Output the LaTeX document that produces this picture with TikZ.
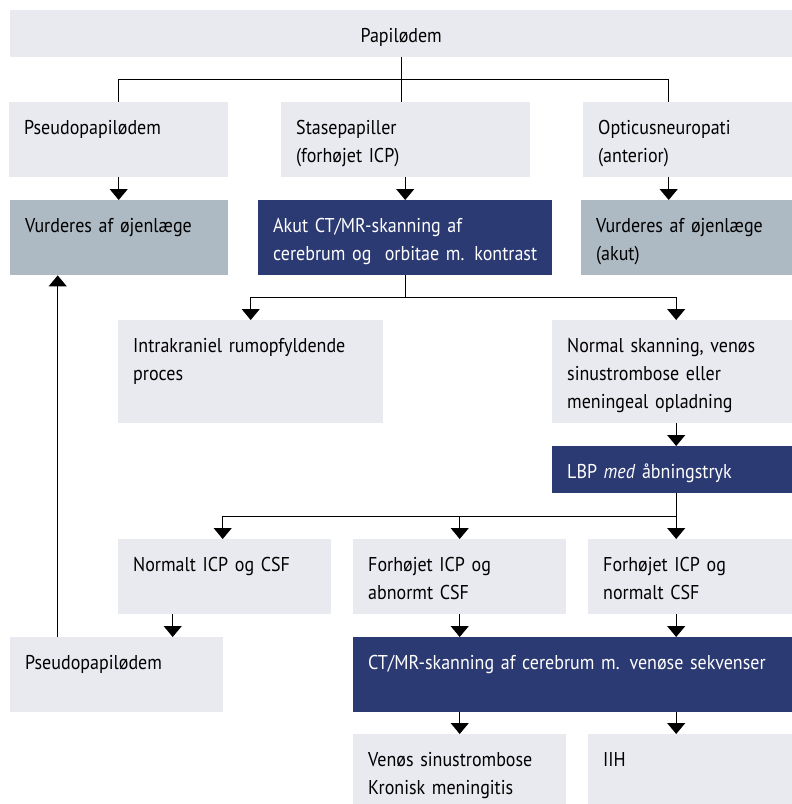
\documentclass[tikz,border=0pt]{standalone}
\usepackage{fontspec}
\setmainfont{PT Sans}[FakeStretch=0.9, WordSpace=0.62]
\usetikzlibrary{arrows.meta}
\usetikzlibrary{calc}
\usetikzlibrary{positioning}

\definecolor{boxlight}{HTML}{E9E9F0}
\definecolor{boxgrey}{HTML}{ADB9C3}
\definecolor{boxnavy}{HTML}{2C3A73}

\begin{document}
\begin{tikzpicture}[
  x=1pt, y=-1pt,
  > = {Triangle[width=18pt,length=11pt]},
  every node/.style = {font=\fontsize{20}{28}\selectfont},
  box/.style n args = {2}{anchor=north west, fill=boxlight, draw=none,
      inner xsep=15pt, inner ysep=0pt, align=left,
      execute at begin node={\hyphenpenalty=10000},
      text width=#1-30pt, text height=32pt, text depth=#2-32pt},
  greybox/.style = {fill=boxgrey},
  navybox/.style = {fill=boxnavy, text=white},
  link/.style = {line width=1.2pt}
  ]
  \useasboundingbox (0,0) rectangle (792,804);

  % top level
  \node[box={782pt}{47pt}, align=center] (papil) at (10,10) {Papilødem};

  \node[box={219pt}{75pt}] (pseudoA) at (9,102)  {Pseudopapilødem};
  \node[box={249pt}{75pt}] (stase)   at (281,102) {Stasepapiller\\(forhøjet ICP)};
  \node[box={209pt}{75pt}] (optic)   at (583,102) {Opticusneuropati\\(anterior)};

  \node[box={218pt}{75pt}, greybox] (vurdA) at (10,200)  {Vurderes af øjenlæge};
  \node[box={294pt}{75pt}, navybox] (akut)  at (258,200) {Akut CT/MR-skanning af\\\mbox{cerebrum og~ orbitae m. kontrast}};
  \node[box={211pt}{75pt}, greybox] (vurdB) at (581,200) {Vurderes af øjenlæge\\(akut)};

  \node[box={265pt}{103pt}] (intra)  at (118,320) {Intrakraniel rumopfyldende\\proces};
  \node[box={240pt}{103pt}] (normal) at (552,320) {Normal skanning, venøs\\sinustrombose eller\\meningeal opladning};
  \node[box={240pt}{47pt}, navybox] (lbp) at (552,446) {LBP \textit{med} åbningstryk};

  \node[box={213pt}{75pt}] (nicp)  at (118,539) {Normalt ICP og CSF};
  \node[box={213pt}{75pt}] (fabn)  at (353,539) {Forhøjet ICP og\\abnormt CSF};
  \node[box={204pt}{75pt}] (fnorm) at (588,539) {Forhøjet ICP og\\normalt CSF};

  \node[box={213pt}{75pt}] (pseudoB) at (10,637) {Pseudopapilødem};
  \node[box={439pt}{75pt}, navybox] (ctmr) at (353,637) {\mbox{CT/MR-skanning af cerebrum m. venøse sekvenser}};

  \node[box={213pt}{70pt}] (venos) at (353,734) {Venøs sinustrombose\\Kronisk meningitis};
  \node[box={204pt}{70pt}] (iih)   at (588,734) {IIH};

  % connectors
  \coordinate (s1) at ($(papil.south)+(0,22)$);
  \draw[link] (papil.south) -- (stase.north -| papil.south);
  \draw[link] (s1) -| (pseudoA.north);
  \draw[link] (s1) -| ([xshift=-19pt]optic.north);

  \draw[link,->] (pseudoA.south) -- (pseudoA.south |- vurdA.north);
  \draw[link,->] (stase.south -| akut.south) -- (akut.north);
  \draw[link,->] ([xshift=-19pt]optic.south) -- ([xshift=-19pt]optic.south |- vurdB.north);

  \coordinate (s2) at ($(akut.south)+(0,22)$);
  \draw[link] (akut.south) -- (s2);
  \draw[link,->] (s2) -| (intra.north);
  \draw[link,->] (s2) -| ([xshift=4pt]normal.north);
  \draw[link,->] ([xshift=4pt]normal.south) -- ([xshift=4pt]lbp.north);

  \coordinate (s3) at ($(lbp.south)+(4,23)$);
  \draw[link] ([xshift=4pt]lbp.south) -- (s3);
  \draw[link,->] (s3) -| ([xshift=-2pt]nicp.north);
  \draw[link,->] (s3 -| fabn.north) -- (fabn.north);
  \draw[link,->] (s3) -- (s3 |- fnorm.north);

  \draw[link,->] ([xshift=-52pt]nicp.south) -- ([xshift=-52pt]nicp.south |- pseudoB.north);
  \draw[link,->] (fabn.south) -- (fabn.south |- ctmr.north);
  \draw[link,->] (s3 |- fnorm.south) -- (s3 |- ctmr.north);

  \draw[link,->] (venos.north |- ctmr.south) -- (venos.north);
  \draw[link,->] (s3 |- ctmr.south) -- (s3 |- iih.north);

  \draw[link,->] ([xshift=-59pt]pseudoB.north) -- ([xshift=-59pt]pseudoB.north |- vurdA.south);
\end{tikzpicture}
\end{document}
